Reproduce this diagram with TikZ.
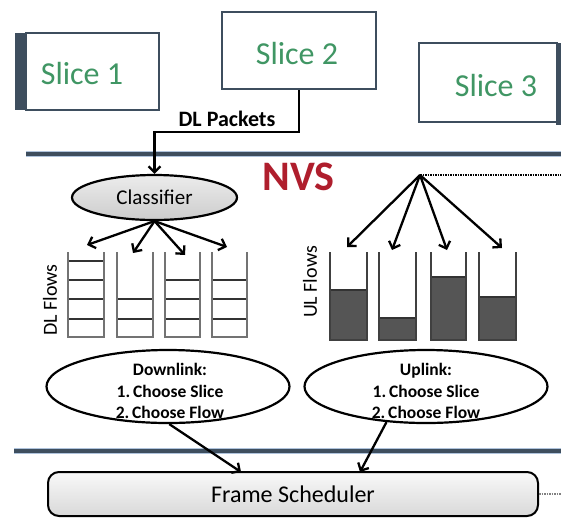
\documentclass[tikz,border=0pt]{standalone}
\usepackage{fontspec}
\setmainfont{Carlito}
\usetikzlibrary{arrows.meta,shapes.geometric}
\definecolor{slate}{RGB}{62,78,94}
\definecolor{slicegreen}{RGB}{64,150,100}
\definecolor{nvsred}{RGB}{175,30,45}
\definecolor{halo}{RGB}{175,195,220}
\definecolor{ulfill}{RGB}{85,85,85}
\definecolor{qgray}{RGB}{115,115,115}
\begin{document}
\begin{tikzpicture}[x=1pt,y=-1pt,
  slicebox/.style={draw=slate,line width=2.4pt,fill=white,inner sep=0pt},
  slicetext/.style={text=slicegreen,font=\fontsize{32}{36}\selectfont},
  conn/.style={line width=2.3pt,-{Straight Barb[length=6pt,width=12pt]}},
  dotline/.style={line width=1.8pt,dash pattern=on 1.5pt off 1pt},
  sepline/.style={line width=6pt,draw=halo},
  sepcore/.style={line width=3.2pt,draw=slate},
  qside/.style={line width=2.4pt,draw=qgray},
  qline/.style={line width=2.2pt,draw=black!80},
  ellbox/.style={ellipse,draw,line width=2.2pt,inner sep=0pt},
  eltext/.style={align=center,font=\bfseries\fontsize{17.5}{21.5}\selectfont},
  flowlab/.style={rotate=90,font=\fontsize{20}{24}\selectfont}]
\useasboundingbox (0,0) rectangle (561,517);

% separator lines
\draw[sepline] (26,154) -- (561,154);
\draw[sepcore] (26,154) -- (561,154);
\draw[sepline] (14,451) -- (561,451);
\draw[sepcore] (14,451) -- (561,451);

% slices
\fill[slate] (15,33) rectangle (26,110);
\node[slicebox,minimum width=133pt,minimum height=77pt] (s1) at (92.5,71.5) {};
\node[slicetext] (s1t) at (82,73) {Slice 1};
\node[slicebox,minimum width=154pt,minimum height=77pt] (s2) at (299,50.5) {};
\node[slicetext] (s2t) at (297,53) {Slice 2};
\node[slicebox,minimum width=138pt,minimum height=79pt] (s3) at (488,82.5) {};
\fill[slate] (556,43) rectangle (561,125);
\node[slicetext] (s3t) at (496,85) {Slice 3};

% NVS
\node[text=nvsred,font=\bfseries\fontsize{42}{46}\selectfont] (nvs) at (298.5,177) {NVS};

% classifier
\node[ellbox,top color=gray!15,bottom color=gray!40,minimum width=165pt,minimum height=45pt,
      font=\fontsize{21}{24}\selectfont] (cls) at (154.5,197.5) {Classifier};
\coordinate (bend) at (299,132);
\draw[conn] (s2.south) -- (bend) -| (cls.north);
\node[font=\bfseries\fontsize{22}{24}\selectfont] (dlp) at (227,119) {DL Packets};

% DL arrows
\coordinate (d1) at (87,245);
\coordinate (d2) at (133,253);
\coordinate (d3) at (185,255);
\coordinate (d4) at (227,247);
\foreach \t in {d1,d2,d3,d4} \draw[conn] (cls.south) -- (\t);

% DL queues
\foreach \xl/\xr/\lines in {68/104/{261,280,299,319}, 117/153/{299,319}, 165/200/{280,299,319}, 212/247/{280,299,319}} {
  \foreach \yy in \lines \draw[qline] (\xl,\yy) -- (\xr,\yy);
  \draw[qside] (\xl,252) -- (\xl,337) -- (\xr,337) -- (\xr,252);
}
\node[flowlab] (dlf) at (50,300) {DL Flows};

% UL
\coordinate (ulo) at (420,175);
\coordinate (ulr) at (561,175);
\draw[dotline] (ulo) -- (ulr);
\coordinate (u1) at (347,247);
\coordinate (u2) at (392,250);
\coordinate (u3) at (447,250);
\coordinate (u4) at (502,248);
\foreach \t in {u1,u2,u3,u4} \draw[conn] (ulo) -- (\t);
\foreach \xl/\xr/\ft in {330/367/290, 379/416/318, 431/466/277, 479/516/297} {
  \fill[ulfill] (\xl,\ft) rectangle (\xr,340);
  \draw[qline] (\xl,\ft) -- (\xr,\ft);
  \draw[qside,draw=black!75] (\xl,252) -- (\xl,340) -- (\xr,340) -- (\xr,252);
}
\node[flowlab] (ulf) at (310,282) {UL Flows};

% scheduler ellipses
\node[ellbox,fill=white,minimum width=243pt,minimum height=73pt] (dl) at (168,386.5) {};
\node[eltext] (dlt) at (170,391) {Downlink:\\1.\,Choose Slice\\2.\,Choose Flow};
\node[ellbox,fill=white,minimum width=243pt,minimum height=73pt] (ul) at (426,386.5) {};
\node[eltext] (ult) at (426,391) {Uplink:\\1.\,Choose Slice\\2.\,Choose Flow};

% frame scheduler
\node[draw,line width=2pt,rounded corners=11pt,top color=gray!5,bottom color=gray!30,
      minimum width=490pt,minimum height=44pt,font=\fontsize{24}{26}\selectfont] (fs) at (293,494) {Frame Scheduler};
\coordinate (fa) at (241,472);
\coordinate (fb) at (360,472);
\draw[conn] (dl.272) -- (fa);
\draw[conn] (ul.222) -- (fb);
\coordinate (fsr) at (561,494);
\draw[dotline,line width=1.2pt,draw=gray] (fs.east) -- (fsr);
\end{tikzpicture}
\end{document}
